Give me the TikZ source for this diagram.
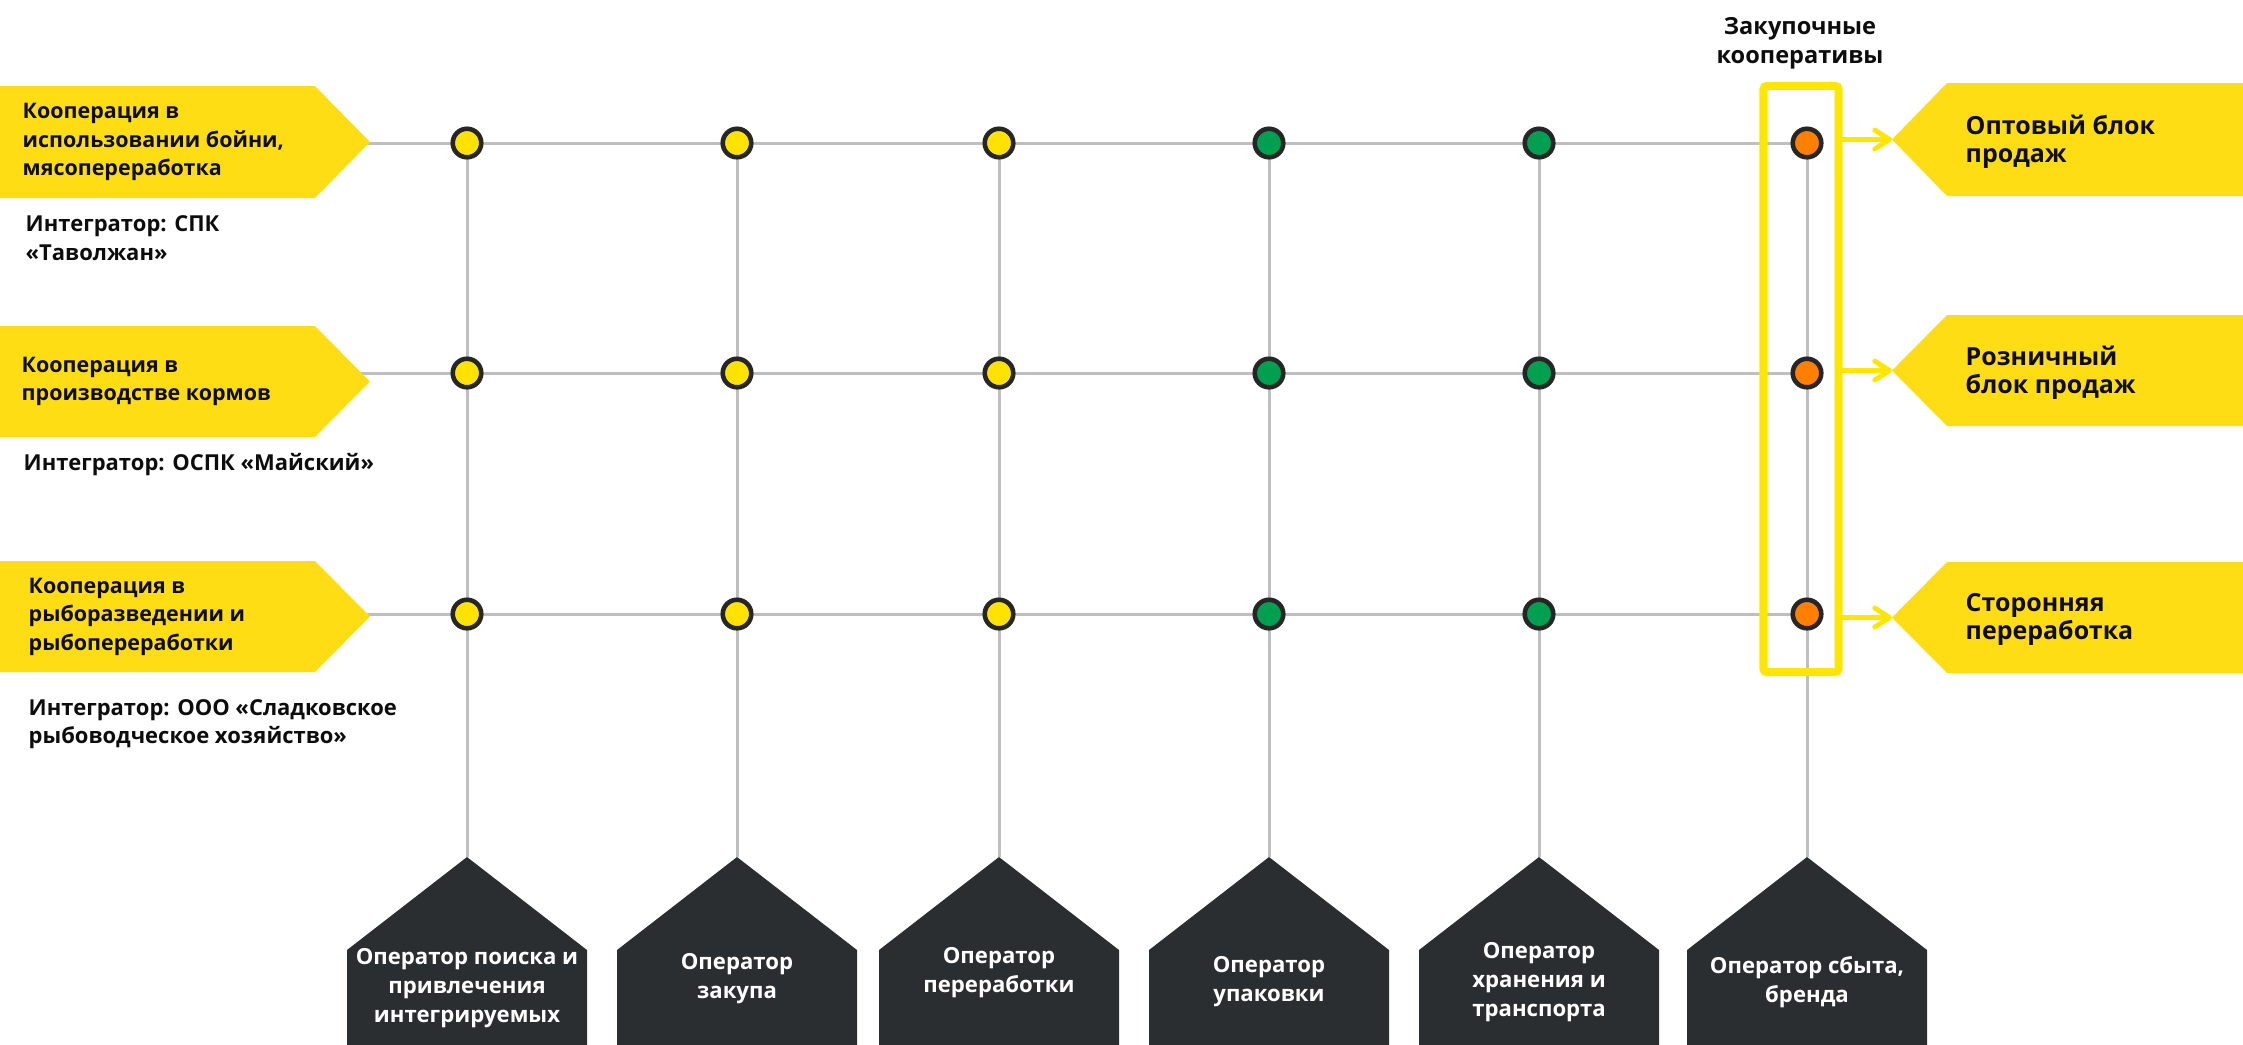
\documentclass[tikz,border=0pt]{standalone}
\usepackage{fontspec}
\setmainfont{Open Sans}
\usetikzlibrary{arrows.meta}
\usetikzlibrary{positioning}

\definecolor{tagyellow}{RGB}{255,221,21}
\definecolor{frameyellow}{RGB}{255,230,0}
\definecolor{dotyellow}{RGB}{255,226,0}
\definecolor{dotgreen}{RGB}{0,160,80}
\definecolor{dotorange}{RGB}{255,128,0}
\definecolor{dotrim}{RGB}{38,38,38}
\definecolor{opdark}{RGB}{43,46,49}
\definecolor{gridgray}{RGB}{191,191,191}
\definecolor{textblack}{RGB}{13,13,13}

\begin{document}
\begin{tikzpicture}[x=0.01cm, y=-0.01cm]
\tikzstyle{gridline}=[draw=gridgray, line width=0.85pt]
\tikzstyle{txt}=[inner sep=0pt, align=left, text=textblack, font=\fontsize{6.1}{8.1}\selectfont\bfseries]
\tikzstyle{inttxt}=[txt, font=\fontsize{6.25}{8.1}\selectfont\bfseries]
\tikzstyle{saletxt}=[txt, font=\fontsize{7.1}{8.1}\selectfont\bfseries]
\tikzstyle{optxt}=[txt, align=center, text=white, font=\fontsize{6.3}{8.3}\selectfont\bfseries]
\tikzstyle{stage}=[circle, draw=dotrim, line width=1.3pt, minimum size=0.285cm, inner sep=0pt]
\tikzstyle{feed}=[draw=frameyellow, line width=1.4pt, line cap=round, -{Straight Barb[length=4.2pt, width=5.4pt, round]}]
\tikzstyle{coopframe}=[draw=frameyellow, line width=2.3pt, rounded corners=1pt, minimum width=0.75cm, minimum height=5.86cm, inner sep=0pt]

	\useasboundingbox (0,0) rectangle (2243,1044);

	% grid
	\foreach \r/\y in {1/143,2/373,3/614}{
		\coordinate (in\r) at (340,\y);
		\foreach \c/\x in {1/467,2/737,3/999,4/1269,5/1539,6/1807}
			\coordinate (g\r\c) at (\x,\y);
		\draw [gridline] (in\r) -- (g\r6);
	}

	% operators
	\foreach \c/\x/\ty/\t in {1/467/988/{Оператор поиска и\\привлечения\\интегрируемых},
		2/737/979/{Оператор\\закупа}, 3/999/973/{Оператор\\переработки},
		4/1269/982/{Оператор\\упаковки}, 5/1539/982/{Оператор\\хранения и\\транспорта},
		6/1807/982/{Оператор сбыта,\\бренда}}{
		\coordinate (op\c) at (\x,857);
		\draw [gridline] (g1\c) -- (op\c);
		\fill [opdark] (op\c) -- ++(120,93) -- ++(0,100) -- ++(-240,0) -- ++(0,-100) -- cycle;
		\node [optxt] (opt\c) at (\x,\ty) {\t};
	}

	% cooperation
	\foreach \r/\ya/\yb/\tx/\t in {1/86/198/22/{Кооперация в\\использовании бойни,\\мясопереработка},
		2/326/437/21/{Кооперация в\\производстве кормов},
		3/561/672/28/{Кооперация в\\рыборазведении и\\рыбопереработки}}{
		\fill [tagyellow] (0,\ya) -- (315,\ya) -- (370,{(\ya+\yb)/2}) -- (315,\yb) -- (0,\yb) -- cycle;
		\node [txt, anchor=west] (coop\r) at (\tx,{(\ya+\yb)/2}) {\t};
	}
	\node [inttxt, anchor=west] (int1) at (25,238) {Интегратор: СПК\\«Таволжан»};
	\node [inttxt, anchor=west] (int2) at (23,465) {Интегратор: ОСПК «Майский»};
	\node [inttxt, anchor=west] (int3) at (28,724) {Интегратор: ООО «Сладковское\\рыбоводческое хозяйство»};

	% sales
	\foreach \r/\ya/\yb/\t in {1/83/196/{Оптовый блок\\продаж}, 2/315/426/{Розничный\\блок продаж},
		3/562/673/{Сторонняя\\переработка}}{
		\coordinate (sale\r) at (1892,{(\ya+\yb)/2});
		\fill [tagyellow] (sale\r) -- (1947,\ya) -- (2243,\ya) -- (2243,\yb) -- (1947,\yb) -- cycle;
		\node [saletxt, anchor=west] (salet\r) at (1965,{(\ya+\yb)/2+2}) {\t};
	}

	% purchasing cooperatives
	\node [coopframe] (zakup) at (1801,379) {};
	\node [txt, align=center, font=\fontsize{6.7}{8.2}\selectfont\bfseries] (zakuph) at (1800,43) {Закупочные\\кооперативы};

	% stages
	\foreach \r in {1,2,3}
		\foreach \c/\col in {1/dotyellow,2/dotyellow,3/dotyellow,4/dotgreen,5/dotgreen,6/dotorange}
			\node [stage, fill=\col] (s\r\c) at (g\r\c) {};

	\foreach \r in {1,2,3}
		\draw [feed] (zakup.east |- sale\r) -- (sale\r);
\end{tikzpicture}
\end{document}
